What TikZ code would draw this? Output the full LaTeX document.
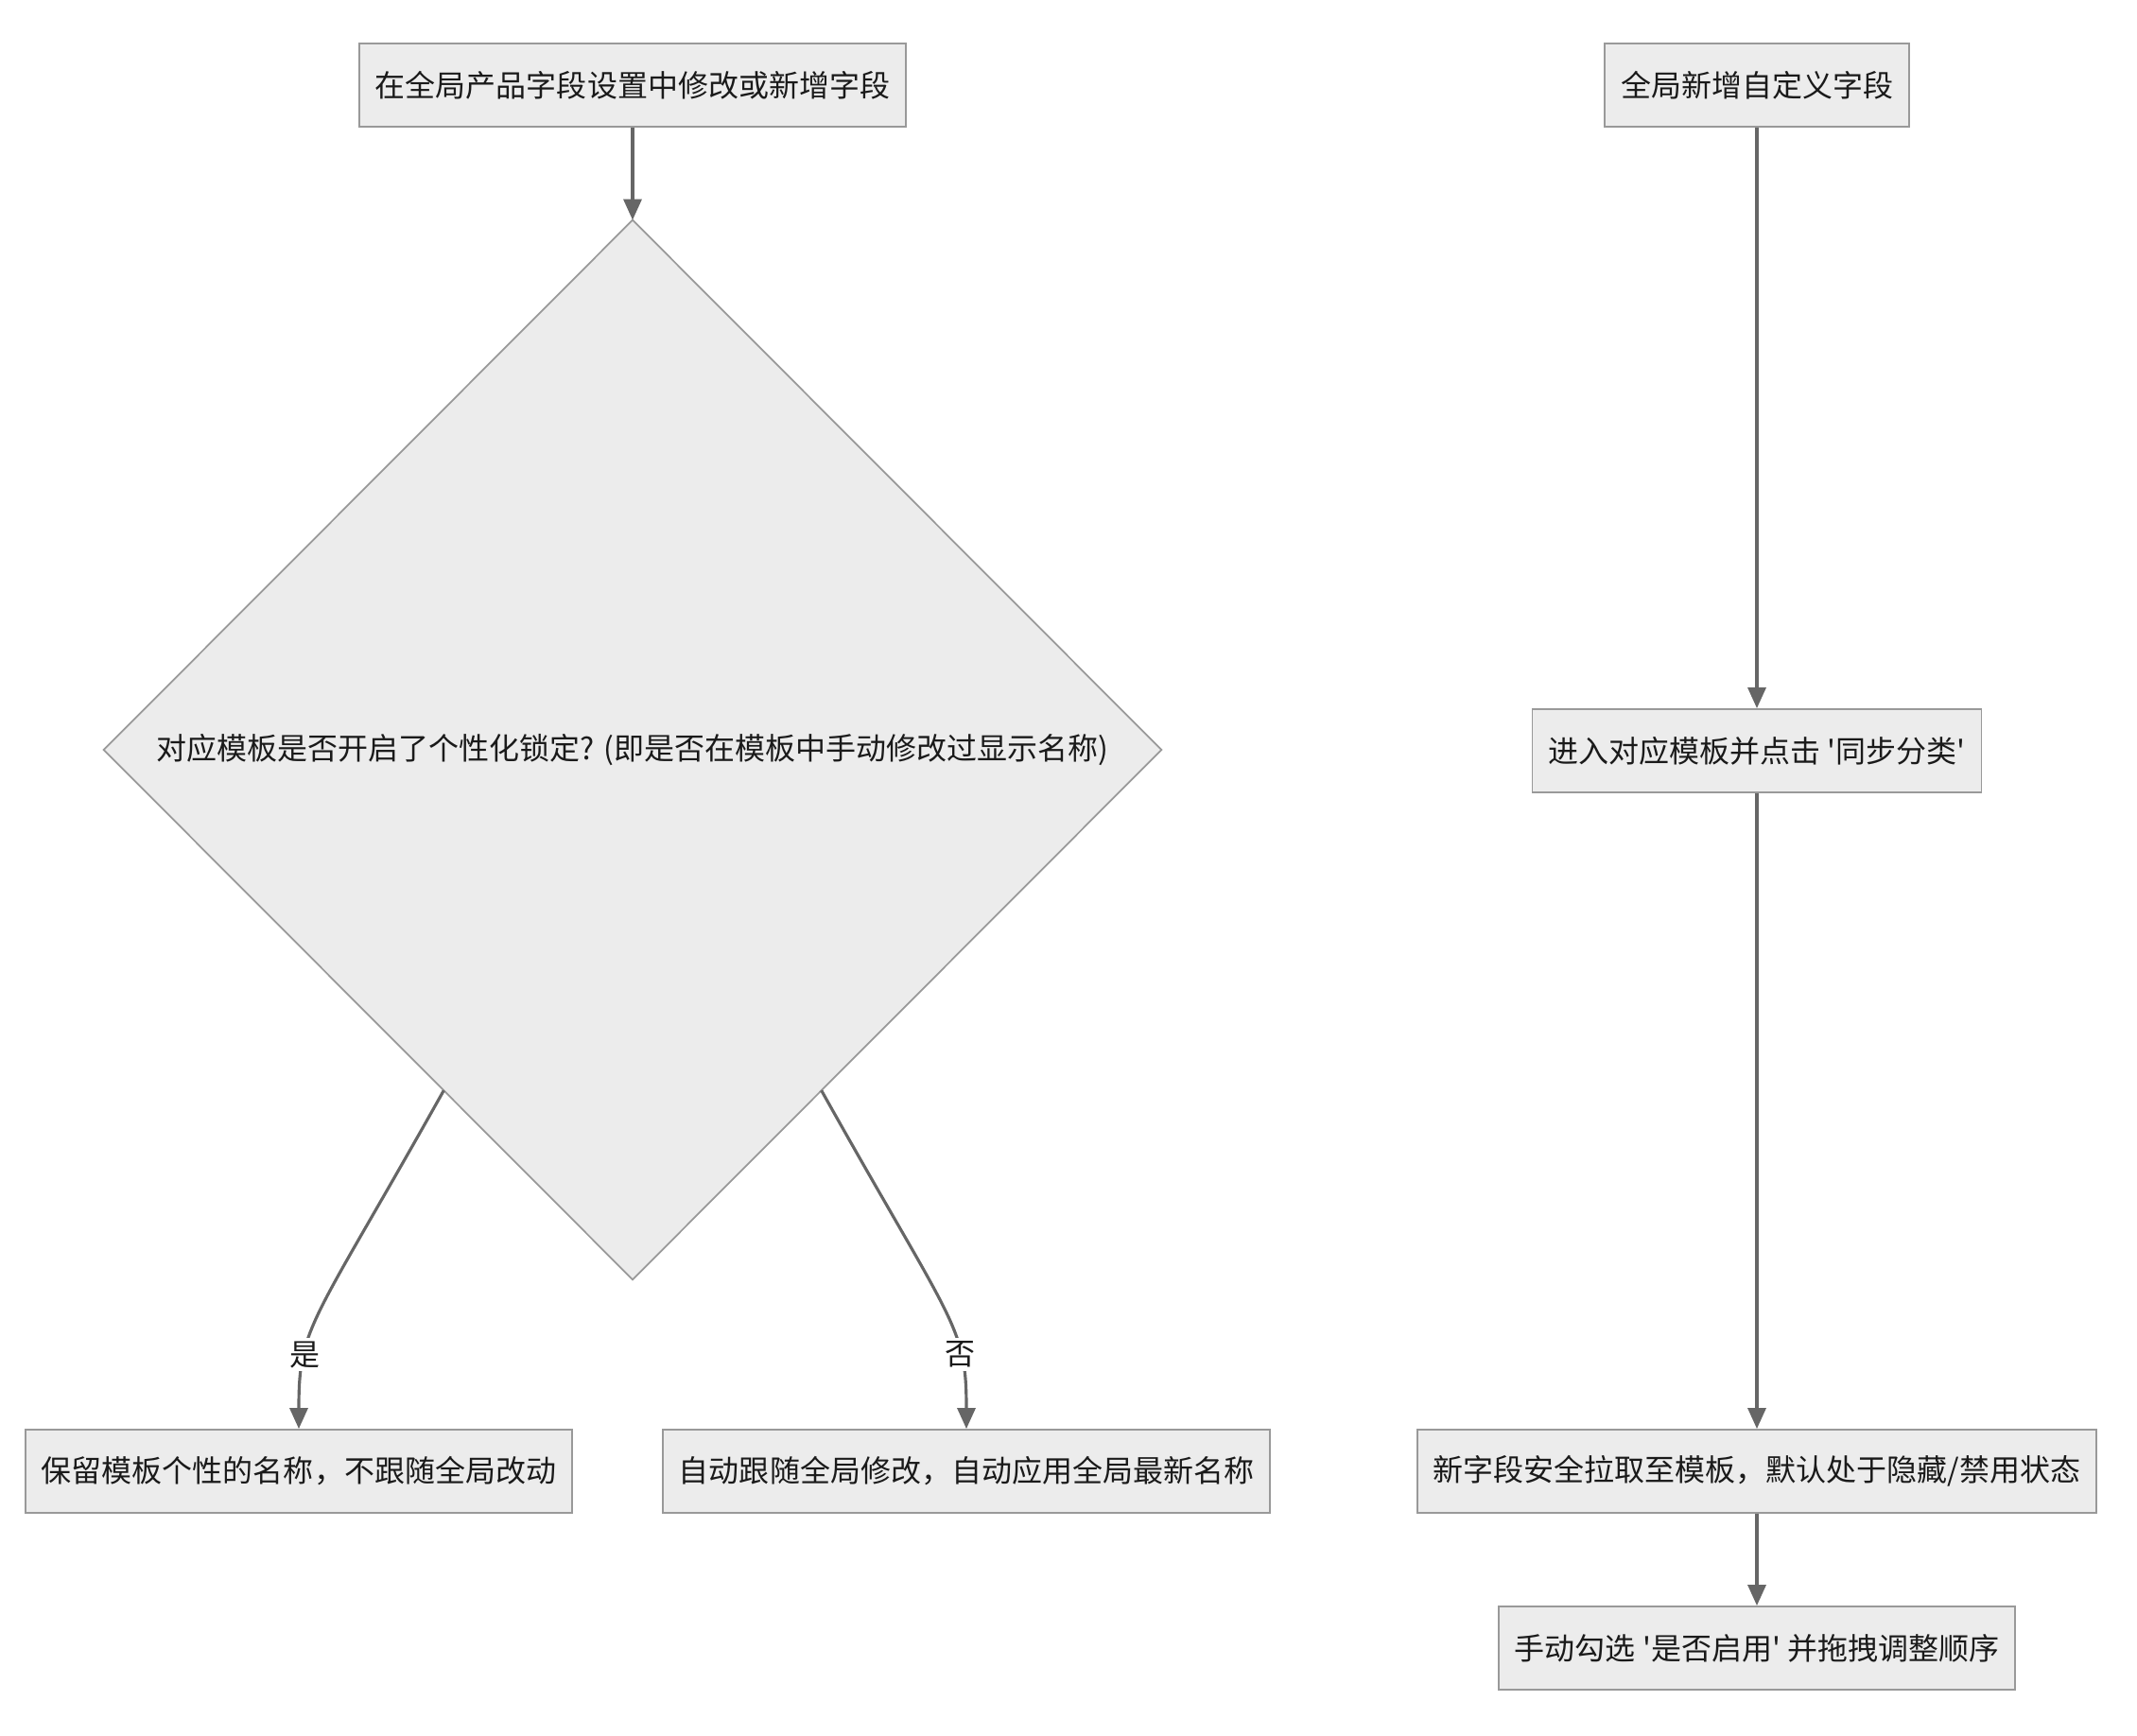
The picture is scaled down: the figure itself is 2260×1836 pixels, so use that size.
\documentclass[tikz,border=0pt]{standalone}
\usepackage{fontspec}
\setmainfont{Noto Sans CJK SC}
% straight quote, loaded without the TeX quote mapping
\font\plainquotefont="Noto Sans CJK SC" at 9.1pt
\newcommand{\sq}{{\plainquotefont'}}
\definecolor{BoxFill}{HTML}{ECECEC}
\definecolor{BoxLine}{HTML}{999999}
\definecolor{FlowLine}{HTML}{666666}
\definecolor{TextDark}{HTML}{1A1A1A}
\usepackage{tikz}
\usetikzlibrary{
  arrows.meta,
  shapes.geometric
}

\begin{document}
\begin{tikzpicture}[
  x=0.01cm, y=-0.01cm,
  box/.style={
    rectangle, draw=BoxLine, fill=BoxFill, line width=0.5pt,
    minimum height=0.88cm, inner xsep=0.17cm,
    font=\fontsize{9.1}{11}\selectfont, text=TextDark
  },
  decision/.style={
    diamond, aspect=1, draw=BoxLine, fill=BoxFill, line width=0.5pt,
    minimum width=11.18cm, minimum height=11.2cm, inner sep=0pt,
    outer sep=0pt, font=\fontsize{9.1}{11}\selectfont, text=TextDark
  },
  flow/.style={
    draw=FlowLine, line width=0.9pt,
    -{Triangle[length=0.22cm, width=0.19cm]}
  },
  flowlabel/.style={
    fill=white, inner sep=1pt,
    font=\fontsize{9.1}{11}\selectfont, text=TextDark
  }
]
  % Canvas (2260 x 1836 px, 1px = 0.01cm)
  \useasboundingbox (0,0) rectangle (2260,1836);

  % Left branch: editing global fields
  \node[box] (edit) at (669,90) {在全局产品字段设置中修改或新增字段};
  \node[decision] (lock) at (669,793)
    {对应模板是否开启了个性化锁定? (即是否在模板中手动修改过显示名称)};
  \node[box] (keep) at (316,1556) {保留模板个性的名称，不跟随全局改动};
  \node[box] (follow) at (1022,1556) {自动跟随全局修改，自动应用全局最新名称};

  % Right branch: new custom fields
  \node[box] (addnew) at (1858,90) {全局新增自定义字段};
  \node[box] (sync) at (1858,794) {进入对应模板并点击 \sq{}同步分类\sq{}};
  \node[box] (pull) at (1858,1556) {新字段安全拉取至模板，默认处于隐藏/禁用状态};
  \node[box] (enable) at (1858,1743) {手动勾选 \sq{}是否启用\sq{} 并拖拽调整顺序};

  % Connectors
  \draw[flow] (edit.south) -- (lock.north);
  \draw[flow] (lock.241) .. controls +(-140,250) and +(0,-110) .. (keep.north)
    node[flowlabel, pos=0.70] {是};
  \draw[flow] (lock.299) .. controls +(140,250) and +(0,-110) .. (follow.north)
    node[flowlabel, pos=0.70] {否};

  \draw[flow] (addnew.south) -- (sync.north);
  \draw[flow] (sync.south) -- (pull.north);
  \draw[flow] (pull.south) -- (enable.north);
\end{tikzpicture}
\end{document}
